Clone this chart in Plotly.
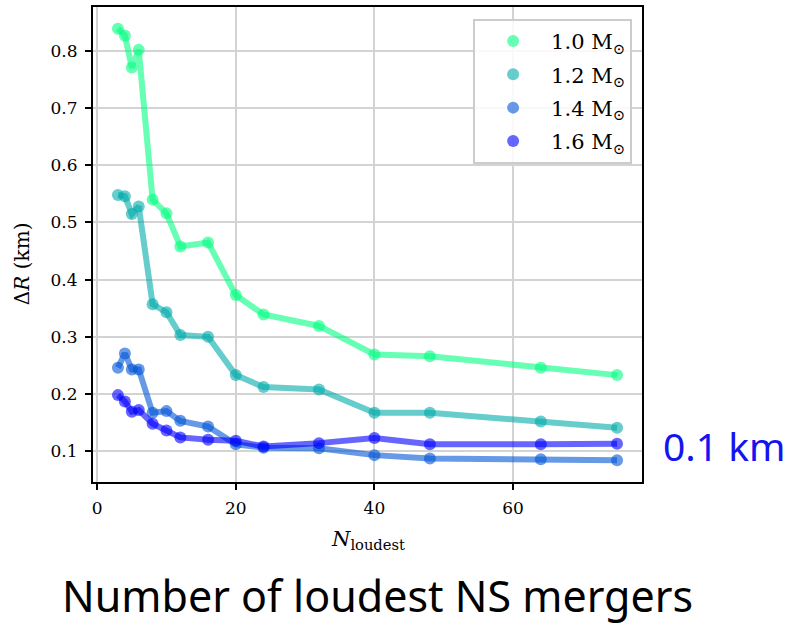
import plotly.graph_objects as go

n_loudest = [3, 4, 5, 6, 8, 10, 12, 16, 20, 24, 32, 40, 48, 64, 75]
dr_10 = [0.839, 0.827, 0.771, 0.802, 0.540, 0.516, 0.458, 0.465, 0.373, 0.339, 0.319, 0.269, 0.266, 0.246, 0.233]
dr_12 = [0.548, 0.546, 0.515, 0.528, 0.357, 0.343, 0.303, 0.300, 0.233, 0.212, 0.208, 0.167, 0.167, 0.152, 0.141]
dr_14 = [0.246, 0.271, 0.243, 0.243, 0.167, 0.170, 0.153, 0.143, 0.112, 0.106, 0.105, 0.093, 0.087, 0.086, 0.084]
dr_16 = [0.198, 0.187, 0.169, 0.172, 0.148, 0.136, 0.124, 0.120, 0.118, 0.108, 0.114, 0.123, 0.112, 0.112, 0.113]
labels = ["1.0 M<sub>⊙</sub>", "1.2 M<sub>⊙</sub>", "1.4 M<sub>⊙</sub>", "1.6 M<sub>⊙</sub>"]
series = [dr_10, dr_12, dr_14, dr_16]
colors = ["rgba(0,255,128,0.6)", "rgba(0,170,170,0.6)", "rgba(0,85,213,0.6)", "rgba(0,0,255,0.6)"]

serif = "DejaVu Serif"
fig = go.Figure()
for i, (lab, ys, c) in enumerate(zip(labels, series, colors)):
    fig.add_trace(go.Scatter(x=n_loudest, y=ys, mode="lines", line=dict(color=c, width=6),
                             showlegend=False, hoverinfo="skip"))
    fig.add_trace(go.Scatter(x=n_loudest, y=ys, mode="markers", name=lab, legendgroup=f"g{i}",
                             marker=dict(color=c, size=12, line=dict(width=0))))

axis_common = dict(showline=True, linecolor="black", linewidth=2, mirror=True,
                   ticks="outside", ticklen=6, tickwidth=2, tickcolor="black",
                   showgrid=True, gridcolor="#d3d3d3", gridwidth=1.5, zeroline=False,
                   ticklabelstandoff=4,
                   tickfont=dict(family=serif, size=17, color="black"))

fig.update_layout(
    width=792, height=625,
    margin=dict(l=93, r=150, t=5, b=143),
    paper_bgcolor="white", plot_bgcolor="white",
    xaxis=dict(range=[-0.6, 78.6], tickvals=[0, 20, 40, 60], **axis_common),
    yaxis=dict(range=[0.046, 0.877], tickvals=[0.1, 0.2, 0.3, 0.4, 0.5, 0.6, 0.7, 0.8],
               ticktext=["0.1", "0.2", "0.3", "0.4", "0.5", "0.6", "0.7", "0.8"], **axis_common),
    legend=dict(x=0.982, y=0.975, xanchor="right", yanchor="top",
                bgcolor="rgba(255,255,255,0.85)", bordercolor="#cccccc", borderwidth=2,
                font=dict(family=serif, size=21, color="black"), itemsizing="constant",
                tracegroupgap=3, itemwidth=66),
    showlegend=True,
)

fig.add_annotation(text="<i>N</i><sub>loudest</sub>", xref="paper", yref="paper",
                   x=0.5, y=-0.09, xanchor="center", yanchor="top", showarrow=False,
                   font=dict(family=serif, size=21, color="black"))
fig.add_annotation(text="Δ<i>R</i> (km)", xref="paper", yref="paper",
                   x=-0.13, y=0.46, xanchor="center", yanchor="middle", textangle=-90,
                   showarrow=False, font=dict(family=serif, size=20, color="black"))
fig.add_annotation(text="0.1 km", xref="paper", yref="paper",
                   x=1.035, y=(482 - 445) / 477, xanchor="left", yanchor="middle",
                   showarrow=False, font=dict(family="Noto Sans", size=39, color="rgb(20,20,240)"))
fig.add_annotation(text="Number of loudest NS mergers", xref="paper", yref="paper",
                   x=(377 - 93) / 549, y=-(596 - 482) / 477, xanchor="center", yanchor="middle",
                   showarrow=False, font=dict(family="Noto Sans", size=43, color="black"))

fig.write_html("out.html")
